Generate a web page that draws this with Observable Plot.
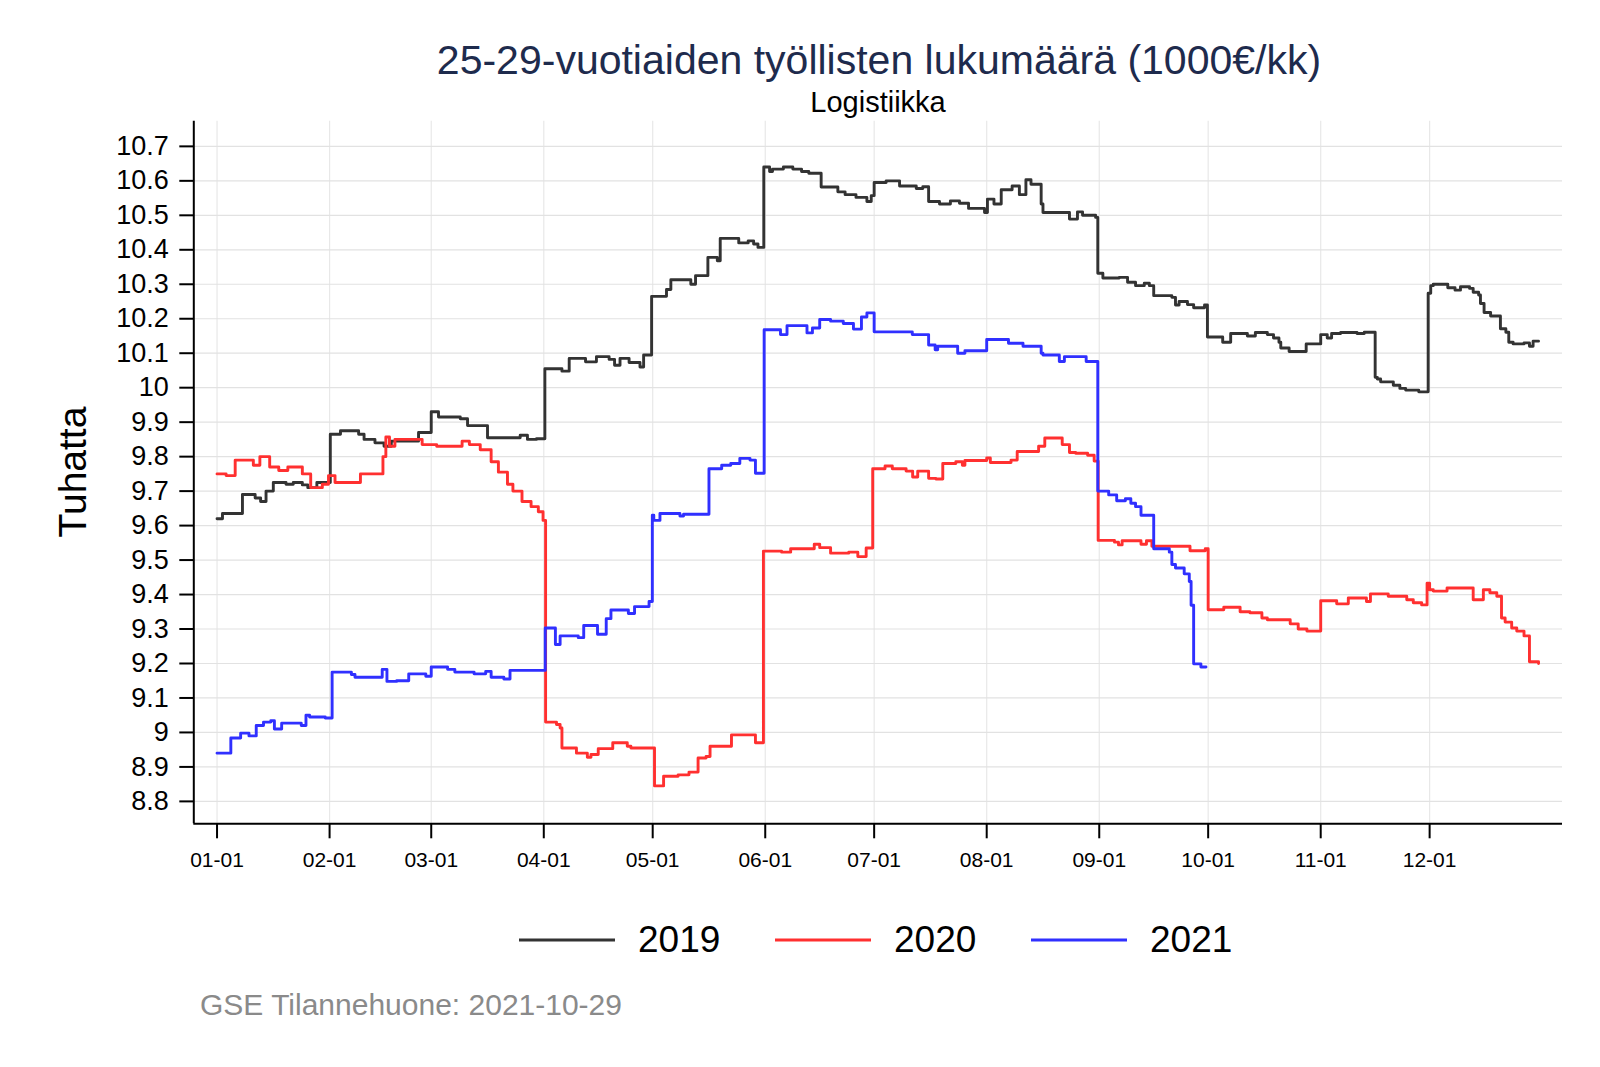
<!DOCTYPE html>
<html><head><meta charset="utf-8">
<script src="https://cdn.jsdelivr.net/npm/d3@7"></script>
<script src="https://cdn.jsdelivr.net/npm/@observablehq/plot@0.6"></script>
<style>
html,body{margin:0;padding:0;background:#fff;overflow:hidden;}
#wrap{position:relative;width:1600px;height:1067px;font-family:"Liberation Sans",Arial,sans-serif;}
#chart{position:absolute;left:0;top:110px;}
.t{position:absolute;white-space:nowrap;}
#title{left:279px;width:1200px;text-align:center;top:40px;font-size:41px;line-height:41px;color:#1e2b4d;}
#subtitle{left:478px;width:800px;text-align:center;top:88px;font-size:29px;line-height:29px;color:#000;}
#ytitle{left:72px;top:472px;font-size:39px;line-height:39px;color:#000;transform:translate(-50%,-50%) rotate(-90deg);}
#caption{left:200px;top:990px;font-size:30px;line-height:30px;color:#8a8a8a;}
.leg{position:absolute;top:918px;height:44px;display:flex;align-items:center;font-size:37px;color:#000;}
.leg svg{margin-right:23px;}
</style></head><body>
<div id="wrap">
  <div id="chart"></div>
  <div class="t" id="title">25-29-vuotiaiden työllisten lukumäärä (1000€/kk)</div>
  <div class="t" id="subtitle">Logistiikka</div>
  <div class="t" id="ytitle">Tuhatta</div>
  <div id="legend"></div>
  <div class="t" id="caption">GSE Tilannehuone: 2021-10-29</div>
</div>
<script>
// ---- data ----
const years = ["2019", "2020", "2021"];
const colors = ["#333333", "#ff3030", "#3030ff"];
const monthDays = [0, 31, 59, 90, 120, 151, 181, 212, 243, 273, 304, 334];
const monthLabels = ["01-01","02-01","03-01","04-01","05-01","06-01","07-01","08-01","09-01","10-01","11-01","12-01"];
const yTicks = [8.8, 8.9, 9.0, 9.1, 9.2, 9.3, 9.4, 9.5, 9.6, 9.7, 9.8, 9.9, 10.0, 10.1, 10.2, 10.3, 10.4, 10.5, 10.6, 10.7];

const days2019 = [0,1.5,7,10.5,12,13.5,15.5,19,21,23.5,25,27.5,31.2,34,39,40.5,43.5,46,48,55.5,59,61,67,69,74.5,83.5,85.5,88,
  90.3,95,97,101.5,104.5,108,109.5,111,113.5,116.5,117.5,119.7,123.8,125,130.5,131.8,135.2,137.8,138.6,143.7,146.3,147.8,149,
  150.6,152.2,153,156,158.6,161,163,166.4,171,173,176,179,180.2,181,184.3,188,192.6,194.4,196,199,202,204.5,207,211.4,
  212.2,214,216,219,221,222.8,224.2,227,227.5,234.8,237,238.4,242,242.6,244,248.5,250.8,253,255.4,256.8,258,263,264,265,
  267.3,269,272,272.8,277,279.2,283.8,286,289.3,291,292.5,293,295.3,300,304,305.8,307,309.5,314,316,319,319.6,320.5,324,
  325.8,327.4,331,333.6,334.3,335,339,341,342.5,345,346,347.5,348,349,350.8,353.5,355,355.8,357,360,361.5,362.5,364];
const vals2019 = [9.62,9.635,9.69,9.68,9.67,9.70,9.725,9.72,9.725,9.718,9.71,9.725,9.865,9.875,9.865,9.85,9.84,9.83,9.845,9.87,9.93,9.915,9.91,9.89,9.855,9.862,9.85,9.852,
  10.055,10.048,10.085,10.075,10.09,10.082,10.065,10.085,10.073,10.06,10.095,10.265,10.285,10.313,10.30,10.325,10.378,10.368,10.433,10.42,10.426,10.417,10.407,
  10.64,10.627,10.634,10.64,10.634,10.627,10.622,10.582,10.568,10.56,10.552,10.54,10.557,10.595,10.60,10.585,10.578,10.583,10.54,10.533,10.542,10.535,10.52,10.508,
  10.547,10.533,10.574,10.585,10.56,10.603,10.59,10.533,10.508,10.489,10.51,10.50,10.494,10.332,10.318,10.32,10.306,10.296,10.303,10.296,10.267,10.262,10.24,10.25,
  10.241,10.232,10.24,10.147,10.132,10.157,10.15,10.16,10.154,10.144,10.132,10.115,10.105,10.127,10.154,10.144,10.157,10.16,10.157,10.161,10.03,10.025,10.017,10.007,
  9.998,9.993,9.988,10.274,10.296,10.30,10.29,10.283,10.293,10.288,10.277,10.269,10.244,10.218,10.208,10.171,10.161,10.132,10.127,10.13,10.12,10.135,10.135];

const days2020 = [0,2.5,5,10,11.8,14.5,17,19.5,23.5,25.8,29,30.7,32.5,39.5,45.7,46.5,47.5,49,56.5,60.5,67.5,69.5,72.5,75.5,77.5,80,81.5,84,86.5,88.5,89.8,
  90.5,93.5,94.5,95,99,102,103,105,109,113,114,120.5,123,127,130,132.5,134.7,135.8,141.7,148.3,
  150.5,155.5,158,164.5,166,169,174,176.5,178.8,180.6,184,186,189.8,191.6,193,196,198,199.9,203.5,205.3,206,212,213,218.7,220.4,226.3,228,232.8,234.8,236.5,239.8,241.6,
  242.7,247.2,248.3,249.3,254.5,256,257.5,268,272.2,273,277.3,281.8,284.5,287.8,289.3,295.6,297.8,300.2,304,308.4,311.6,316.6,317.7,322.6,327.7,329.5,331.8,
  333.3,334,335,338.8,346,348.8,350.6,352.5,353.8,354.8,356.6,358,360,361.5,364];
const vals2020 = [9.75,9.745,9.79,9.775,9.80,9.77,9.76,9.77,9.75,9.71,9.72,9.745,9.725,9.75,9.80,9.857,9.83,9.85,9.835,9.83,9.845,9.835,9.82,9.785,9.755,9.72,9.70,9.67,9.655,9.64,9.615,
  9.03,9.023,9.013,8.955,8.94,8.928,8.936,8.953,8.97,8.96,8.955,8.845,8.873,8.877,8.885,8.926,8.93,8.96,8.993,8.97,
  9.526,9.523,9.533,9.546,9.536,9.52,9.523,9.51,9.535,9.765,9.773,9.765,9.758,9.741,9.758,9.737,9.735,9.78,9.785,9.775,9.789,9.796,9.783,9.79,9.815,9.83,9.854,9.835,9.812,9.81,9.804,9.787,
  9.557,9.552,9.544,9.556,9.546,9.556,9.54,9.527,9.533,9.356,9.363,9.35,9.347,9.332,9.327,9.315,9.30,9.294,9.382,9.373,9.39,9.38,9.402,9.395,9.385,9.376,9.37,
  9.433,9.414,9.41,9.419,9.385,9.414,9.405,9.395,9.332,9.32,9.303,9.294,9.28,9.205,9.20];

const days2021 = [0,3.8,6.5,8.8,10.8,12.8,14.8,15.8,17.8,23.2,24.5,25.5,29.8,31.7,37,38,45.5,46.8,49.5,52.8,57.5,59,63.5,65.5,70.8,74,75.5,79,80.7,
  90.4,93.2,94.5,99.5,101,104.8,107.2,108.5,113.3,115,119,119.9,120.3,122,127.5,128.5,135.5,139,141.5,144,146.8,148.3,
  150.7,155.2,157,162.5,164,166,169,172.5,175.3,177.5,179,181,191.5,196,197.8,198.5,204,206,212,218,222,227,227.5,232,233.4,239.4,
  242.6,245.6,247.8,250.2,251.7,253,254.5,258,262.3,263,264,266.4,267.8,268.3,269,271,272.4];
const vals2021 = [8.94,8.984,8.998,8.99,9.02,9.03,9.034,9.01,9.027,9.02,9.05,9.045,9.042,9.175,9.168,9.16,9.183,9.148,9.15,9.17,9.163,9.19,9.183,9.175,9.17,9.177,9.16,9.155,9.18,
  9.303,9.255,9.28,9.275,9.31,9.285,9.33,9.355,9.345,9.365,9.38,9.63,9.615,9.635,9.628,9.633,9.765,9.775,9.78,9.795,9.79,9.752,
  10.168,10.154,10.18,10.159,10.173,10.198,10.193,10.186,10.17,10.205,10.217,10.162,10.154,10.124,10.11,10.12,10.1,10.107,10.14,10.129,10.12,10.1,10.095,10.076,10.09,10.076,
  9.70,9.689,9.672,9.678,9.665,9.655,9.63,9.533,9.523,9.487,9.477,9.46,9.438,9.369,9.199,9.19,9.19];

// ---- build table ----
const rows = [];
[[years[0], days2019, vals2019], [years[1], days2020, vals2020], [years[2], days2021, vals2021]].forEach(([yr, ds, vs]) => {
  ds.forEach((d, i) => rows.push({year: yr, day: d, value: vs[i]}));
});

const xDomain = [-6.4, 370.6];
const yDomain = [8.735, 10.773];

const chart = Plot.plot({
  width: 1600, height: 780,
  marginLeft: 193.3, marginRight: 38, marginTop: 10.7, marginBottom: 66.7,
  style: {fontFamily: "Liberation Sans, Arial, sans-serif", background: "transparent", color: "#000"},
  x: {domain: xDomain},
  y: {domain: yDomain},
  color: {domain: years, range: colors},
  marks: [
    Plot.gridX(monthDays, {stroke: "#e8e8e8", strokeOpacity: 1, strokeWidth: 1.2}),
    Plot.gridY(yTicks, {stroke: "#e2e2e2", strokeOpacity: 1, strokeWidth: 1.2}),
    Plot.line(rows, {x: "day", y: "value", z: "year", stroke: "year", curve: "step-after", strokeWidth: 2.9}),
    Plot.axisX(monthDays, {tickSize: 15, tickPadding: 13, fontSize: 21, strokeWidth: 2,
      tickFormat: d => monthLabels[monthDays.indexOf(d)], label: null}),
    Plot.axisY(yTicks, {tickSize: 14, tickPadding: 11, fontSize: 27, strokeWidth: 2,
      tickFormat: d => String(Math.round(d * 10) / 10), label: null}),
    Plot.ruleX([xDomain[0]], {stroke: "#000", strokeWidth: 2}),
    Plot.ruleY([yDomain[0]], {stroke: "#000", strokeWidth: 2})
  ]
});
document.getElementById("chart").appendChild(chart);

// ---- legend ----
const legendX = [519, 775, 1031];
const legend = document.getElementById("legend");
years.forEach((yr, i) => {
  const item = document.createElement("div");
  item.className = "leg";
  item.style.left = legendX[i] + "px";
  item.innerHTML = `<svg width="96" height="10"><line x1="0" x2="96" y1="5" y2="5" stroke="${colors[i]}" stroke-width="3"/></svg><span>${yr}</span>`;
  legend.appendChild(item);
});
</script>
</body></html>
